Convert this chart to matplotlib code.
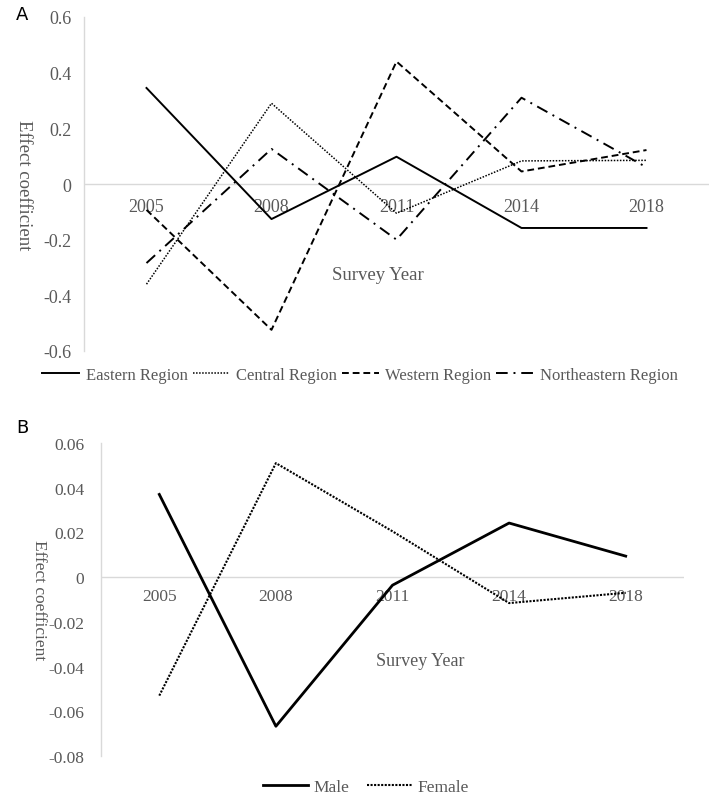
import matplotlib
matplotlib.use("Agg")
import matplotlib.pyplot as plt

years = ["2005", "2008", "2011", "2014", "2018"]

eastern = [0.345, -0.126, 0.098, -0.158, -0.158]
central = [-0.36, 0.29, -0.105, 0.083, 0.085]
western = [-0.093, -0.524, 0.44, 0.045, 0.122]
northeastern = [-0.284, 0.126, -0.20, 0.31, 0.06]

male = [0.037, -0.0667, -0.0036, 0.0242, 0.0094]
female = [-0.053, 0.051, 0.0205, -0.0116, -0.007]

yticks_a = [-0.6, -0.4, -0.2, 0, 0.2, 0.4, 0.6]
ytick_labels_a = ["-0.6", "-0.4", "-0.2", "0", "0.2", "0.4", "0.6"]
yticks_b = [-0.08, -0.06, -0.04, -0.02, 0, 0.02, 0.04, 0.06]
ytick_labels_b = ["-0.08", "-0.06", "-0.04", "-0.02", "0", "0.02", "0.04", "0.06"]

W, H = 712, 812
fig = plt.figure(figsize=(W / 100, H / 100), dpi=100)
serif = "Liberation Serif"
gray = "#595959"
grid = "#d9d9d9"


def ax_rect(l, r, t, b):
    return [l / W, 1 - b / H, (r - l) / W, (b - t) / H]


def style(ax, yticks, ylabels, ymin, ymax, fs, ypad, yearoff):
    x = list(range(len(years)))
    ax.set_xlim(-0.5, len(years) - 0.5)
    ax.set_ylim(ymin, ymax)
    for s in ["top", "right", "bottom"]:
        ax.spines[s].set_visible(False)
    ax.spines["left"].set_color(grid)
    ax.spines["left"].set_linewidth(1.0)
    ax.axhline(0, color=grid, lw=1.0, zorder=0)
    ax.set_yticks(yticks)
    ax.set_yticklabels(ylabels, fontfamily=serif, fontsize=fs, color=gray)
    ax.tick_params(axis="y", length=0, pad=ypad)
    ax.set_xticks([])
    for i, yr in enumerate(years):
        ax.annotate(yr, xy=(i, 0), xytext=(0, -yearoff), textcoords="offset pixels",
                    ha="center", va="center", fontfamily=serif, fontsize=fs,
                    color=gray, zorder=1)
    return x


# Panel A
axA = fig.add_axes(ax_rect(84, 709, 18, 352))
x = style(axA, yticks_a, ytick_labels_a, -0.6, 0.6, 13, 9, 23)
la1, = axA.plot(x, eastern, color="black", lw=1.4, ls="-", label="Eastern Region")
la2, = axA.plot(x, central, color="black", lw=1.1, ls=(0, (1, 1)), label="Central Region")
la3, = axA.plot(x, western, color="black", lw=1.4, ls=(0, (3.5, 2)), label="Western Region")
la4, = axA.plot(x, northeastern, color="black", lw=1.4, ls=(0, (6, 3, 1, 3)), label="Northeastern Region")
fig.text(378 / W, 1 - 276 / H, "Survey Year", ha="center", va="center",
         fontfamily=serif, fontsize=13.5, color=gray)
fig.text(23 / W, 1 - 185 / H, "Effect coefficient", ha="center", va="center",
         rotation=-90, fontfamily=serif, fontsize=13.5, color=gray)
legA = fig.legend(handles=[la1, la2, la3, la4], loc="center",
                  bbox_to_anchor=(360 / W, 1 - 376 / H),
                  ncol=4, frameon=False, prop={"family": serif, "size": 12},
                  handlelength=2.2, handletextpad=0.4, columnspacing=0.3)
for t in legA.get_texts():
    t.set_color(gray)
fig.text(22 / W, 1 - 15 / H, "A", ha="center", va="center", fontsize=13,
         fontfamily="DejaVu Sans")

# Panel B
axB = fig.add_axes(ax_rect(101, 684, 444, 757))
x = style(axB, yticks_b, ytick_labels_b, -0.08, 0.06, 12.5, 12, 19)
lb1, = axB.plot(x, male, color="black", lw=2.0, ls="-", label="Male")
lb2, = axB.plot(x, female, color="black", lw=1.5, ls=(0, (1, 0.7)), label="Female")
fig.text(420 / W, 1 - 662 / H, "Survey Year", ha="center", va="center",
         fontfamily=serif, fontsize=13, color=gray)
fig.text(39 / W, 1 - 600 / H, "Effect coefficient", ha="center", va="center",
         rotation=-90, fontfamily=serif, fontsize=12.5, color=gray)
legB = fig.legend(handles=[lb1, lb2], loc="center", bbox_to_anchor=(366 / W, 1 - 788 / H),
                  ncol=2, frameon=False, prop={"family": serif, "size": 12.5},
                  handlelength=2.6, handletextpad=0.3, columnspacing=1.0)
for t in legB.get_texts():
    t.set_color(gray)
fig.text(22 / W, 1 - 428 / H, "B", ha="center", va="center", fontsize=13,
         fontfamily="DejaVu Sans")

fig.savefig("out.png", dpi=100, facecolor="white")
